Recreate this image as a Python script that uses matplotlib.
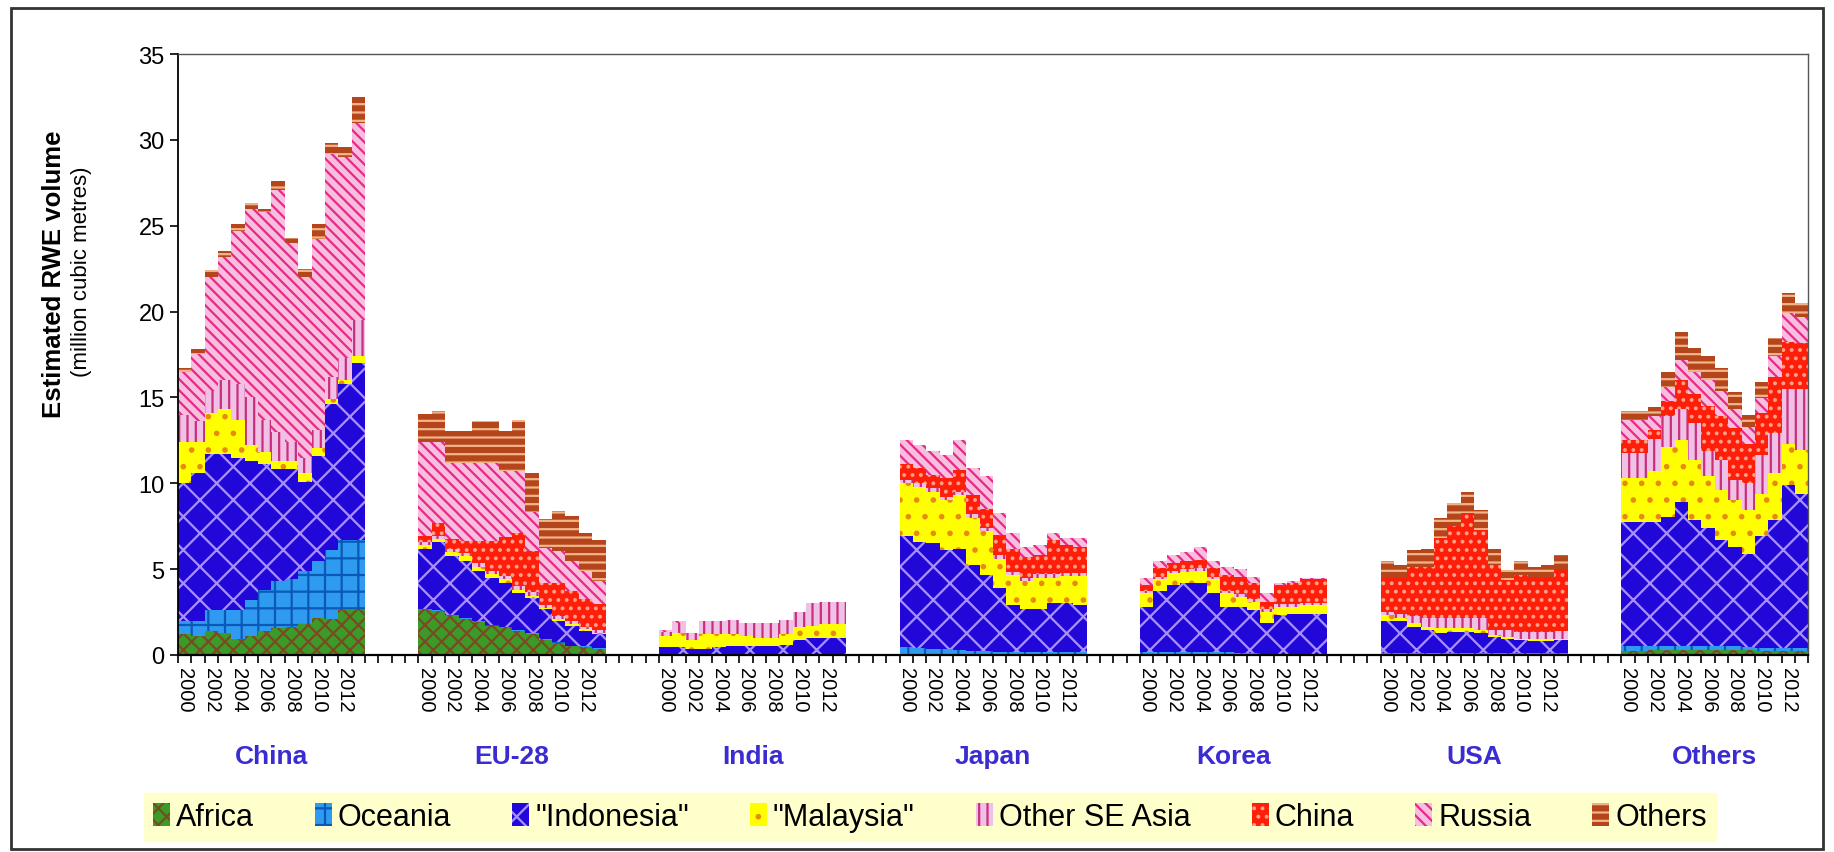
import matplotlib
matplotlib.use("Agg")
import matplotlib.pyplot as plt
import matplotlib.transforms as mtransforms
from matplotlib.patches import Patch, Rectangle
import numpy as np

plt.rcParams["font.family"] = ["Liberation Sans", "DejaVu Sans"]
plt.rcParams["hatch.linewidth"] = 1.6

groups = ["China", "EU-28", "India", "Japan", "Korea", "USA", "Others"]
years = list(range(2000, 2014))
series = ["Africa", "Oceania", '"Indonesia"', '"Malaysia"', "Other SE Asia",
          "China", "Russia", "Others"]

# million m3 RWE, one row per destination group (China, EU-28, India, Japan, Korea, USA, Others)
africa = [
    [1.2, 1.1, 1.4, 1.3, 0.95, 1.1, 1.4, 1.55, 1.65, 1.8, 2.15, 2.1, 2.6, 2.6],
    [2.65, 2.55, 2.3, 2.1, 1.9, 1.7, 1.6, 1.4, 1.2, 0.9, 0.7, 0.5, 0.45, 0.35],
    [0.0] * 14,
    [0.05] * 14,
    [0.0] * 14,
    [0.0] * 14,
    [0.25, 0.25, 0.3, 0.3, 0.3, 0.3, 0.3, 0.3, 0.3, 0.3, 0.25, 0.25, 0.25, 0.25],
]
oceania = [
    [0.8, 0.9, 1.2, 1.3, 1.65, 2.1, 2.4, 2.75, 2.75, 3.1, 3.35, 4.0, 4.1, 4.1],
    [0.05] * 14,
    [0.0] * 14,
    [0.4, 0.35, 0.3, 0.3, 0.25, 0.2, 0.2, 0.15, 0.1, 0.1, 0.1, 0.1, 0.1, 0.1],
    [0.2, 0.2, 0.2, 0.2, 0.2, 0.2, 0.15, 0.1, 0.1, 0.05, 0.05, 0.05, 0.05, 0.05],
    [0.1] * 14,
    [0.3, 0.3, 0.25, 0.25, 0.25, 0.2, 0.2, 0.2, 0.2, 0.15, 0.15, 0.15, 0.15, 0.15],
]
indonesia = [
    [8.0, 8.6, 9.1, 9.1, 8.9, 8.1, 7.3, 6.55, 6.45, 5.2, 6.1, 8.5, 9.1, 10.3],
    [3.45, 3.95, 3.4, 3.35, 2.95, 2.75, 2.55, 2.15, 2.05, 1.7, 1.25, 1.15, 0.9, 0.8],
    [0.45, 0.45, 0.35, 0.35, 0.45, 0.5, 0.5, 0.5, 0.5, 0.6, 0.9, 1.0, 1.0, 1.0],
    [6.45, 6.2, 6.15, 5.75, 5.9, 5.0, 4.4, 3.7, 2.75, 2.55, 2.55, 2.85, 2.85, 2.75],
    [2.6, 3.5, 3.9, 4.0, 4.0, 3.4, 2.65, 2.7, 2.5, 1.8, 2.25, 2.35, 2.35, 2.35],
    [1.85, 1.85, 1.55, 1.35, 1.15, 1.25, 1.25, 1.15, 0.95, 0.85, 0.75, 0.7, 0.7, 0.75],
    [7.2, 7.2, 7.2, 7.5, 8.35, 7.35, 6.9, 6.2, 5.8, 5.45, 6.5, 7.45, 9.5, 9.0],
]
malaysia = [
    [2.4, 1.8, 2.4, 2.6, 2.2, 0.9, 0.7, 0.45, 0.45, 0.5, 0.45, 0.3, 0.2, 0.4],
    [0.25, 0.2, 0.25, 0.25, 0.25, 0.2, 0.2, 0.2, 0.15, 0.1, 0.1, 0.1, 0.1, 0.1],
    [0.65, 0.85, 0.55, 0.85, 0.75, 0.7, 0.6, 0.5, 0.5, 0.6, 0.7, 0.7, 0.8, 0.8],
    [3.1, 3.2, 3.0, 2.9, 3.1, 2.75, 2.55, 1.7, 1.75, 1.6, 1.8, 1.5, 1.6, 1.7],
    [0.8, 0.7, 0.65, 0.65, 0.7, 0.8, 0.8, 0.6, 0.5, 0.65, 0.5, 0.4, 0.5, 0.5],
    [0.4, 0.2, 0.2, 0.2, 0.3, 0.2, 0.2, 0.2, 0.1, 0.1, 0.1, 0.15, 0.15, 0.1],
    [2.55, 2.55, 2.95, 4.05, 3.6, 3.5, 3.0, 2.9, 2.7, 2.55, 2.5, 2.75, 2.4, 2.55],
]
other_se_asia = [
    [1.6, 1.2, 1.3, 1.7, 2.1, 2.8, 1.9, 1.7, 1.1, 0.9, 1.05, 1.3, 1.3, 2.1],
    [0.15, 0.15, 0.2, 0.2, 0.2, 0.2, 0.2, 0.2, 0.2, 0.15, 0.15, 0.15, 0.15, 0.15],
    [0.25, 0.55, 0.4, 0.75, 0.75, 0.85, 0.75, 0.85, 0.85, 0.85, 0.9, 1.3, 1.3, 1.3],
    [0.2] * 14,
    [0.15] * 14,
    [0.15, 0.25, 0.4, 0.5, 0.6, 0.6, 0.6, 0.7, 0.3, 0.4, 0.4, 0.4, 0.4, 0.45],
    [1.45, 1.45, 1.9, 1.8, 1.8, 2.15, 1.5, 1.75, 1.2, 1.55, 2.25, 2.3, 3.2, 3.55],
]
china = [
    [0.0] * 14,
    [0.35, 0.8, 0.55, 0.7, 1.3, 1.75, 2.25, 3.1, 2.4, 1.3, 1.95, 1.75, 1.6, 1.5],
    [0.0] * 14,
    [0.9, 0.9, 0.8, 1.1, 1.3, 1.1, 1.1, 1.2, 1.35, 1.2, 1.1, 2.0, 1.6, 1.5],
    [0.35, 0.5, 0.45, 0.45, 0.5, 0.5, 0.9, 1.0, 0.95, 0.45, 1.15, 1.25, 1.35, 1.35],
    [2.05, 2.15, 2.9, 3.0, 4.65, 5.35, 6.1, 5.15, 3.8, 2.9, 3.3, 3.2, 3.2, 3.6],
    [0.75, 0.75, 0.5, 0.9, 1.7, 1.7, 2.6, 2.55, 3.0, 2.3, 2.45, 3.3, 2.75, 2.65],
]
russia = [
    [2.5, 3.9, 6.6, 7.2, 8.9, 11.0, 12.1, 14.1, 11.6, 10.5, 11.1, 13.0, 11.7, 11.5],
    [5.5, 4.7, 4.45, 4.55, 4.55, 4.55, 3.85, 3.6, 2.25, 2.05, 1.85, 1.8, 1.65, 1.35],
    [0.1, 0.1, 0.0, 0.0, 0.0, 0.0, 0.0, 0.0, 0.0, 0.0, 0.0, 0.0, 0.0, 0.0],
    [1.4, 1.3, 1.4, 1.35, 1.7, 1.6, 1.9, 1.25, 0.9, 0.6, 0.6, 0.4, 0.4, 0.5],
    [0.4, 0.45, 0.45, 0.55, 0.75, 0.45, 0.45, 0.45, 0.35, 0.5, 0.1, 0.1, 0.1, 0.1],
    [0.0] * 14,
    [1.2, 1.2, 0.8, 0.8, 1.2, 1.3, 1.5, 1.5, 1.1, 1.0, 0.85, 1.2, 1.65, 1.55],
]
others = [
    [0.2, 0.3, 0.4, 0.3, 0.4, 0.3, 0.2, 0.5, 0.3, 0.5, 0.9, 0.6, 0.6, 1.5],
    [1.65, 1.8, 1.85, 1.85, 2.4, 2.4, 2.35, 3.0, 2.3, 1.65, 2.35, 2.6, 2.2, 2.4],
    [0.0] * 14,
    [0.0] * 14,
    [0.0] * 14,
    [0.9, 0.7, 0.95, 1.05, 1.15, 1.35, 1.25, 1.15, 0.95, 0.6, 0.8, 0.6, 0.7, 0.8],
    [0.5, 0.5, 0.55, 0.9, 1.6, 1.35, 1.4, 1.3, 1.0, 0.7, 0.95, 1.05, 1.2, 0.8],
]

# (face colour, hatch colour, hatch) per series
styles = [
    ("#3C9A28", "#7A4A22", "xx"),
    ("#2E9BF0", "#0A58B8", "+"),
    ("#2208D8", "#A890FF", "x"),
    ("#FFFF00", "#E88A10", "."),
    ("#F0C0E6", "#C8307A", "||"),
    ("#FF1E0A", "#FFA088", ".."),
    ("#F8BEDD", "#E8288A", "\\\\\\"),
    ("#B5451B", "#F2B48A", "--"),
]

GAP = 4
step = len(years) + GAP

fig = plt.figure(figsize=(18.34, 8.53), dpi=100)
ax = fig.add_axes([0.097, 0.231, 0.889, 0.7045])

data = [africa, oceania, indonesia, malaysia, other_se_asia, china, russia, others]
for g in range(len(groups)):
    x = g * step + np.arange(len(years))
    bottom = np.zeros(len(years))
    for s, vals in enumerate(data):
        v = np.array(vals[g])
        face, hcol, hatch = styles[s]
        ax.bar(x, v, width=1.0, bottom=bottom, color=face, edgecolor=hcol,
               hatch=hatch, linewidth=0, antialiased=False)
        bottom += v

n_cat = len(groups) * step - GAP
ax.set_xlim(-0.5, n_cat - 0.5)
ax.set_ylim(0, 35)
ax.set_yticks(range(0, 36, 5))
ax.tick_params(axis="y", labelsize=17, length=6, width=1.2, direction="out")

ax.set_xticks(np.arange(-0.5, n_cat, 1.0))
ax.set_xticklabels([])
ax.tick_params(axis="x", which="major", length=6, width=1.2, direction="out")
lab_pos, lab_txt = [], []
for g in range(len(groups)):
    for i in range(0, len(years), 2):
        lab_pos.append(g * step + i)
        lab_txt.append(str(years[i]))
ax.set_xticks(lab_pos, minor=True)
ax.set_xticklabels(lab_txt, minor=True, rotation=270, fontsize=14.5)
ax.tick_params(axis="x", which="minor", length=0, pad=9)

for side in ["top", "right"]:
    ax.spines[side].set_color("#555555")
    ax.spines[side].set_linewidth(1.0)
ax.spines["left"].set_linewidth(1.3)
ax.spines["bottom"].set_linewidth(1.6)

trans = mtransforms.blended_transform_factory(ax.transData, fig.transFigure)
for g, name in enumerate(groups):
    ax.text(g * step + (len(years) - 1) / 2, 0.112, name, transform=trans,
            ha="center", va="center", fontsize=19, fontweight="bold",
            color="#3A2CD0")

fig.text(0.0295, 0.678, "Estimated RWE volume", rotation=90, ha="center",
         va="center", fontsize=18.5, fontweight="bold")
fig.text(0.0445, 0.681, "(million cubic metres)", rotation=90, ha="center",
         va="center", fontsize=16)

handles = [Patch(facecolor=st[0], edgecolor=st[1], hatch=st[2], linewidth=0)
           for st in styles]
leg = fig.legend(handles, series, loc="center", bbox_to_anchor=(0.507, 0.041),
                 ncol=8, frameon=True, fancybox=False, facecolor="#FFFFCC",
                 edgecolor="#FFFFCC", fontsize=22, handlelength=0.55,
                 handleheight=0.8, handletextpad=0.2, columnspacing=2.0,
                 borderpad=0.3)
leg.get_frame().set_alpha(1)

fig.patches.append(Rectangle((0.006, 0.004), 0.988, 0.986, transform=fig.transFigure,
                             fill=False, edgecolor="#333333", linewidth=2))

fig.savefig("out.png", dpi=100, facecolor="white")
